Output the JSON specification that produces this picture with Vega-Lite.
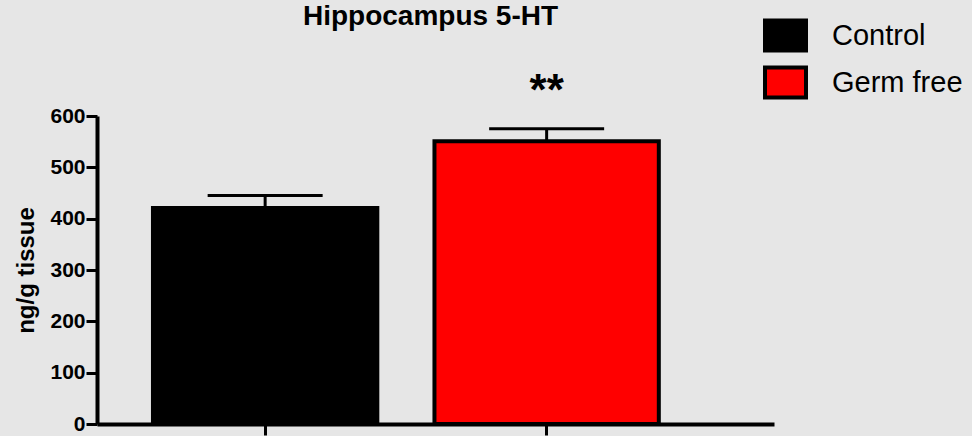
{
  "$schema": "https://vega.github.io/schema/vega-lite/v6.json",
  "autosize": "none",
  "width": 677,
  "height": 308,
  "padding": {"left": 97, "top": 116, "right": 198, "bottom": 12},
  "background": "#e6e6e6",
  "title": {
    "text": "Hippocampus 5-HT",
    "font": "Liberation Sans",
    "fontSize": 28,
    "fontWeight": "bold",
    "color": "#000000",
    "anchor": "middle",
    "baseline": "alphabetic",
    "dx": -5,
    "offset": -40
  },
  "data": {
    "values": [
      {"group": "Control", "mean": 421, "upper": 445, "sig": ""},
      {"group": "Germ free", "mean": 551, "upper": 575, "sig": "**"}
    ]
  },
  "encoding": {
    "x": {
      "field": "group",
      "type": "nominal",
      "sort": null,
      "scale": {"paddingInner": 0.203, "paddingOuter": 0.304, "align": 0.327},
      "axis": {"labels": false, "title": null}
    }
  },
  "layer": [
    {
      "mark": {"type": "rule", "strokeWidth": 3, "color": "#000000"},
      "encoding": {
        "y": {"field": "mean", "type": "quantitative"},
        "y2": {"field": "upper"}
      }
    },
    {
      "mark": {"type": "tick", "size": 115, "thickness": 3, "color": "#000000", "opacity": 1},
      "encoding": {
        "y": {"field": "upper", "type": "quantitative"}
      }
    },
    {
      "mark": {"type": "bar", "stroke": "#000000", "strokeWidth": 4, "opacity": 1},
      "encoding": {
        "y": {
          "field": "mean",
          "type": "quantitative",
          "scale": {"domain": [0, 600], "nice": false},
          "axis": {"values": [0, 100, 200, 300, 400, 500, 600], "title": "ng/g tissue"}
        },
        "color": {
          "field": "group",
          "type": "nominal",
          "scale": {"domain": ["Control", "Germ free"], "range": ["#000000", "#ff0000"]},
          "legend": {"title": null}
        }
      }
    },
    {
      "mark": {
        "type": "text",
        "font": "Liberation Sans",
        "fontSize": 44,
        "fontWeight": "bold",
        "color": "#000000",
        "baseline": "alphabetic",
        "dy": -24
      },
      "encoding": {
        "y": {"field": "upper", "type": "quantitative"},
        "text": {"field": "sig"}
      }
    }
  ],
  "config": {
    "view": {"stroke": null},
    "axis": {
      "grid": false,
      "domainColor": "#000000",
      "domainWidth": 4,
      "tickColor": "#000000",
      "tickWidth": 3,
      "tickSize": 11,
      "labelFont": "Liberation Sans",
      "labelFontSize": 21,
      "labelFontWeight": "bold",
      "labelColor": "#000000",
      "labelPadding": 1,
      "titleFont": "Liberation Sans",
      "titleFontSize": 24,
      "titleFontWeight": "bold",
      "titleColor": "#000000",
      "titlePadding": 11
    },
    "legend": {
      "orient": "none",
      "legendX": 666,
      "legendY": -103,
      "padding": 0,
      "symbolType": "M-1,-0.73H1V0.73H-1Z",
      "symbolSize": 1681,
      "symbolStrokeColor": "#000000",
      "symbolStrokeWidth": 4,
      "symbolOpacity": 1,
      "labelFont": "Liberation Sans",
      "labelFontSize": 29,
      "labelColor": "#000000",
      "labelOffset": 24,
      "rowPadding": 0
    }
  }
}
